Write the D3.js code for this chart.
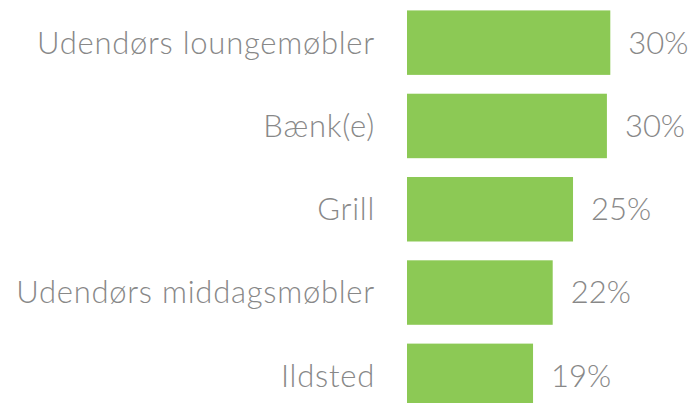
<!DOCTYPE html>
<html>
<head>
<meta charset="utf-8">
<script src="https://cdn.jsdelivr.net/npm/d3@7"></script>
<style>
  html, body { margin: 0; padding: 0; background: #fff; overflow: hidden; }
</style>
</head>
<body>
<div id="chart"></div>
<script>
// Data
const categories = ["Udendørs loungemøbler", "Bænk(e)", "Grill", "Udendørs middagsmøbler", "Ildsted"];
const values = [30, 29.5, 24.5, 21.5, 18.6];
const valueLabels = ["30%", "30%", "25%", "22%", "19%"];

const w = 690, h = 403;
const barLeft = 407;

var svg = d3.select("#chart").append("svg")
    .attr("width", w)
    .attr("height", h)
    .attr("font-family", "Lato, sans-serif")
    .attr("font-weight", 300)
    .attr("font-size", 31);

const x = d3.scaleLinear()
  .domain([0, 30])
  .range([barLeft, 610.3]);

const y = d3.scaleBand()
  .domain(categories)
  .range([1, 1 + 5 * 83.3])
  .paddingInner(0.226)
  .paddingOuter(0.113);

const rows = categories.map((c, i) => ({ name: c, value: values[i], label: valueLabels[i] }));

// bars
svg.selectAll("rect.bar")
  .data(rows)
  .enter().append("rect")
    .attr("class", "bar")
    .attr("x", x(0))
    .attr("y", d => y(d.name))
    .attr("width", d => x(d.value) - x(0))
    .attr("height", y.bandwidth())
    .attr("fill", "#8cc955");

// category labels
svg.selectAll("text.cat")
  .data(rows)
  .enter().append("text")
    .attr("class", "cat")
    .attr("x", barLeft - 32)
    .attr("y", d => y(d.name) + y.bandwidth() / 2)
    .attr("dy", "0.35em")
    .attr("text-anchor", "end")
    .attr("letter-spacing", 0.75)
    .attr("fill", "#888888")
    .text(d => d.name);

// value labels
svg.selectAll("text.val")
  .data(rows)
  .enter().append("text")
    .attr("class", "val")
    .attr("x", d => x(d.value) + 18)
    .attr("y", d => y(d.name) + y.bandwidth() / 2)
    .attr("dy", "0.35em")
    .attr("fill", "#888888")
    .text(d => d.label);
</script>
</body>
</html>
